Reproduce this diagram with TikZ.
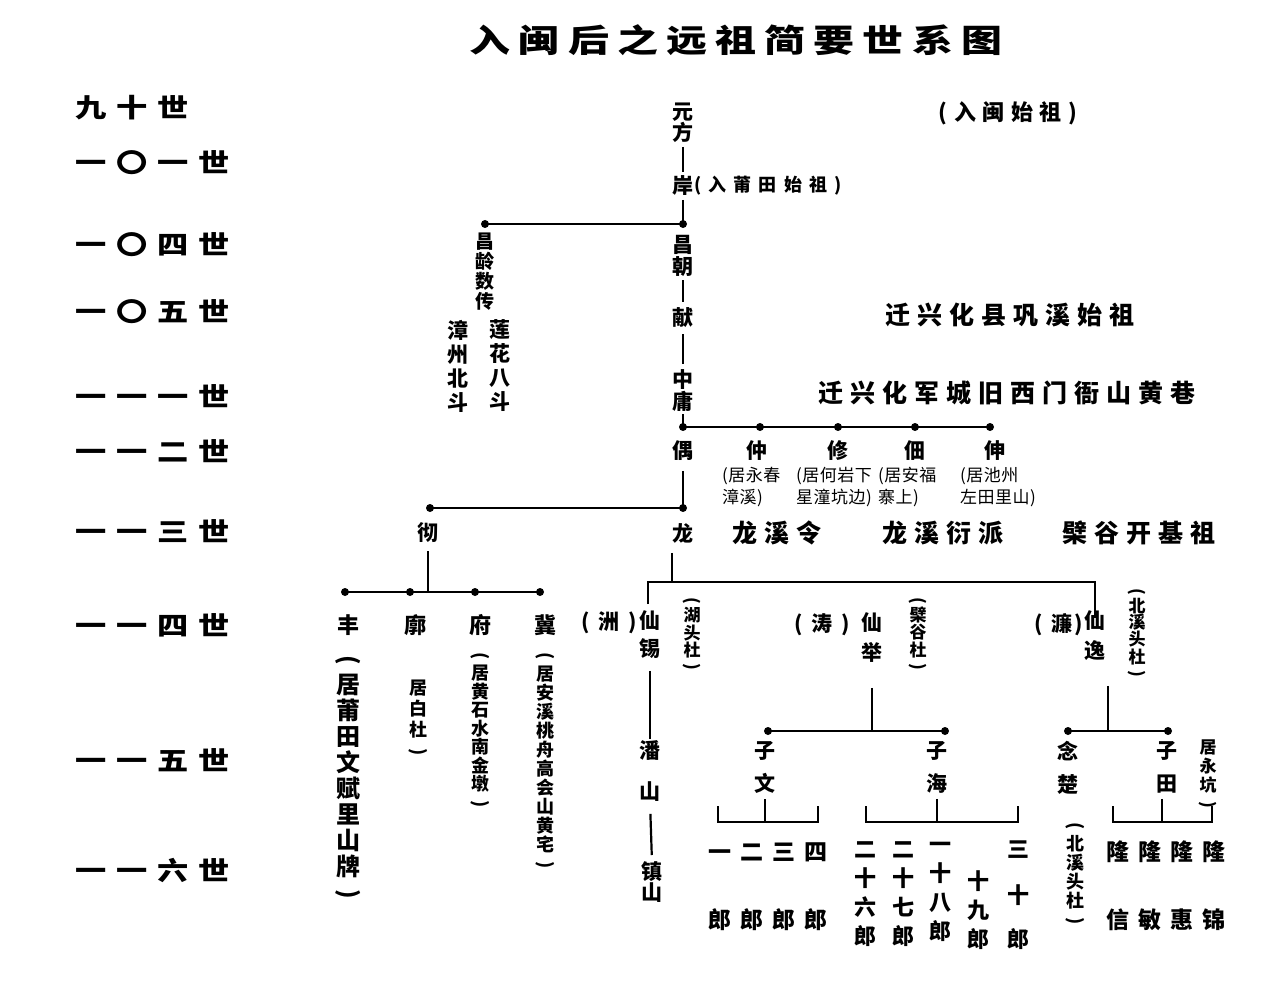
\documentclass[tikz,border=0pt]{standalone}
\usepackage{fontspec}
\usepackage{graphicx}
\newfontfamily\cjk{Noto Sans CJK SC}
\newcommand{\myfs}[2]{\fontsize{#1}{#2}\selectfont}
\newcommand{\vo}{\rotatebox[origin=c]{-90}{(}}
\newcommand{\vc}{\rotatebox[origin=c]{-90}{)}}
\begin{document}
\begin{tikzpicture}[x=1pt,y=-1pt,
 every node/.style={inner sep=0pt, outer sep=0pt},
 nm/.style={font=\cjk\bfseries\myfs{21}{21}},
 vt/.style={align=center, anchor=north, font=\cjk\bfseries\myfs{21}{#1}},
 vt/.default=22,
 vs/.style={align=center, anchor=north, font=\cjk\bfseries\myfs{17}{#1}},
 vs/.default=17,
 lbl/.style={font=\cjk\bfseries\myfs{25}{25}\addfontfeature{LetterSpace=28}},
 gen/.style={anchor=west, xscale=1.2, font=\cjk\bfseries\myfs{26}{26}\addfontfeature{LetterSpace=32}},
 small/.style={font=\cjk\myfs{17}{22}\addfontfeature{LetterSpace=3}, align=left, anchor=north west},
 row/.style={font=\cjk\bfseries\myfs{23}{23}\addfontfeature{LetterSpace=40}},
 ln/.style={line width=2.2pt},
 dot/.style={circle, fill=black, minimum size=8pt},
]
\useasboundingbox (0,0) rectangle (1280,995);

% title
\node[font=\cjk\bfseries\myfs{32}{32}\addfontfeature{LetterSpace=20}, xscale=1.28] (title) at (736,40) {入闽后之远祖简要世系图};

% generation labels
\node[gen] (g90)  at (75,108) {九十世};
\node[gen] (g101) at (75,163) {一〇一世};
\node[gen] (g104) at (75,245) {一〇四世};
\node[gen] (g105) at (75,312) {一〇五世};
\node[gen] (g111) at (75,396) {一一一世};
\node[gen] (g112) at (75,451) {一一二世};
\node[gen] (g113) at (75,531) {一一三世};
\node[gen] (g114) at (75,625) {一一四世};
\node[gen] (g115) at (75,760) {一一五世};
\node[gen] (g116) at (75,870) {一一六世};

% right-side labels
\node[lbl, font=\cjk\bfseries\myfs{22}{22}\addfontfeature{LetterSpace=30}] (rumin) at (1008,113) {(入闽始祖)};
\node[lbl] (gongxi) at (1010,315) {迁兴化县巩溪始祖};
\node[lbl] (leishan) at (1007,393) {迁兴化军城旧西门衙山黄巷};

% top trunk
\node[vt=20] (yf) at (683,103) {元\\方};
\node[nm] (an) at (683,186) {岸};
\node[anchor=west, font=\cjk\bfseries\myfs{18}{18}\addfontfeature{LetterSpace=40}] (annote) at (694,186) {(入莆田始祖)};
\coordinate (j1) at (683,224);
\coordinate (jl) at (485,224);
\draw[ln, shorten <=4pt, shorten >=4pt] (yf.south) -- (an.north);
\draw[ln, shorten <=4pt] (an.south) -- (j1);
\draw[ln] (j1) -- (jl);
\node[dot] at (j1) {};
\node[dot] at (jl) {};

\node[vt=20, font=\cjk\bfseries\myfs{19}{20}] (cl) at (485,233) {昌\\龄\\数\\传};
\node[vt=24] (zz) at (458,320) {漳\\州\\北\\斗};
\node[vt=24] (lh) at (500,320) {莲\\花\\八\\斗};

\node[vt=22] (cc) at (683,235) {昌\\朝};
\node[nm] (xn) at (683,318) {献};
\node[vt=20] (zy) at (683,370) {中\\庸};
\draw[ln, shorten <=4pt, shorten >=6pt] (cc.south) -- (xn.north);
\draw[ln, shorten <=6pt, shorten >=6pt] (xn.south) -- (zy.north);

\coordinate (j2) at (683,427);
\coordinate (d2) at (760,427);
\coordinate (d3) at (838,427);
\coordinate (d4) at (915,427);
\coordinate (d5) at (990,427);
\draw[ln, shorten <=3pt] (zy.south) -- (j2);
\draw[ln] (j2) -- (d5);
\foreach \p in {j2,d2,d3,d4,d5} \node[dot] at (\p) {};

\node[nm] (ou) at (683,451) {偶};
\node[nm] (zhong) at (757,451) {仲};
\node[nm] (xiu) at (838,451) {修};
\node[nm] (dian) at (915,451) {佃};
\node[nm] (shen) at (995,451) {伸};
\node[small] (n1) at (722,467) {(居永春\\漳溪)};
\node[small] (n2) at (796,467) {(居何岩下\\星潼坑边)};
\node[small] (n3) at (878,467) {(居安福\\寨上)};
\node[small] (n4) at (960,467) {(居池州\\左田里山)};

\coordinate (j3) at (683,508);
\coordinate (jc) at (430,508);
\draw[ln, shorten <=10pt] (ou.south) -- (j3);
\draw[ln] (j3) -- (jc);
\node[dot] at (j3) {};
\node[dot] at (jc) {};

\node[nm] (che) at (428,533) {彻};
\node[nm] (long) at (683,533) {龙};
\node[lbl] (lxl) at (777,533) {龙溪令};
\node[lbl] (lxy) at (943,533) {龙溪衍派};
\node[lbl] (bg) at (1139,533) {檗谷开基祖};

% che branch
\coordinate (jd) at (428,592);
\coordinate (e1) at (345,592);
\coordinate (e2) at (410,592);
\coordinate (e3) at (475,592);
\coordinate (e4) at (540,592);
\draw[ln, shorten <=8pt] (che.south) -- (jd);
\draw[ln] (e1) -- (e4);
\foreach \p in {e1,e2,e3,e4} \node[dot] at (\p) {};

\node[nm, font=\cjk\bfseries\myfs{22}{22}] (feng) at (348,625) {丰};
\node[nm, font=\cjk\bfseries\myfs{22}{22}] (kuo) at (415,625) {廓};
\node[nm, font=\cjk\bfseries\myfs{22}{22}] (fu) at (480,625) {府};
\node[nm, font=\cjk\bfseries\myfs{22}{22}] (ji) at (545,625) {冀};
\node[vt, font=\cjk\bfseries\myfs{24}{26}] (fengN) at (348,655) {\vo\\居\\莆\\田\\文\\赋\\里\\山\\牌\\\vc};
\node[vs=21, font=\cjk\bfseries\myfs{18}{21}] (kuoN) at (418,680) {居\\白\\杜\\\vc};
\node[vs, font=\cjk\bfseries\myfs{18}{18.5}] (fuN) at (480,652) {\vo\\居\\黄\\石\\水\\南\\金\\墩\\\vc};
\node[vs, font=\cjk\bfseries\myfs{18}{19}] (jiN) at (545,652) {\vo\\居\\安\\溪\\桃\\舟\\高\\会\\山\\黄\\宅\\\vc};

% long branch
\coordinate (j4) at (672,582);
\coordinate (b1) at (648,582);
\coordinate (b2) at (1095,582);
\draw[ln, shorten <=10pt] (long.south -| j4) -- (j4);

\node[vt=28] (xx) at (650,611) {仙\\锡};
\node[nm, anchor=east] (zhou) at (637,623) {(\hspace{9pt}洲\hspace{9pt})};
\node[vs=16] (hts) at (692,597) {\vo\\湖\\头\\杜\\\vc};
\node[vt=30] (xj) at (872,613) {仙\\举};
\node[nm, anchor=east] (tao) at (850,625) {(\hspace{9pt}涛\hspace{9pt})};
\node[vs=16] (bgs) at (918,597) {\vo\\檗\\谷\\杜\\\vc};
\node[vt=30] (xy) at (1095,611) {仙\\逸};
\node[nm, anchor=east] (lian) at (1083,625) {(\hspace{9pt}濂\hspace{2pt})};
\node[vs=16] (bxt) at (1137,588) {\vo\\北\\溪\\头\\杜\\\vc};

\draw[ln] (xx.north -| b1) ++(0,-7) -- (b1) -- (b2) -- ([yshift=-7pt]xy.north -| b2);

% xian xi line
\node[vt=41] (ps) at (650,741) {潘\\山};
\node[vt=21] (zs) at (652,862) {镇\\山};
\draw[ln, shorten <=12pt, shorten >=2pt] (xx.south) -- (ps.north);
\draw[ln, shorten <=12pt, shorten >=7pt] (ps.south) -- (zs.north);

% xian ju line
\coordinate (j5) at (872,731);
\coordinate (f1) at (768,731);
\coordinate (f2) at (945,731);
\draw[ln, shorten <=25pt] (xj.south) -- (j5);
\draw[ln] (f1) -- (f2);
\node[dot] at (f1) {};
\node[dot] at (f2) {};
\node[vt=33] (zw) at (765,741) {子\\文};
\node[vt=33] (zh) at (937,741) {子\\海};

\coordinate (k1) at (765,822);
\coordinate (k1a) at (718,822);
\coordinate (k1b) at (818,822);
\draw[ln, shorten <=6pt] (zw.south) -- (k1);
\draw[ln] ([yshift=16pt]k1a) -- (k1a) -- (k1b) -- ([yshift=16pt]k1b);
\node[row] (nums1) at (768,852) {一二三四};
\node[row] (lang1) at (768,920) {郎郎郎郎};

\coordinate (k2) at (937,822);
\coordinate (k2a) at (866,822);
\coordinate (k2b) at (1018,822);
\draw[ln, shorten <=6pt] (zh.south) -- (k2);
\draw[ln] ([yshift=16pt]k2a) -- (k2a) -- (k2b) -- ([yshift=16pt]k2b);
\node[vt=29, font=\cjk\bfseries\myfs{22}{29}] (c1) at (865,842) {二\\十\\六\\郎};
\node[vt=29, font=\cjk\bfseries\myfs{22}{29}] (c2) at (903,842) {二\\十\\七\\郎};
\node[vt=29, font=\cjk\bfseries\myfs{22}{29}] (c3) at (940,842) {一\\十\\八\\郎};
\node[vt=29, font=\cjk\bfseries\myfs{22}{29}] (c4) at (978,871) {十\\九\\郎};
\node[nm, font=\cjk\bfseries\myfs{22}{22}] (c5a) at (1018,850) {三};
\node[nm, font=\cjk\bfseries\myfs{22}{22}] (c5b) at (1018,895) {十};
\node[nm, font=\cjk\bfseries\myfs{22}{22}] (c5c) at (1018,939) {郎};

% xian yi line
\coordinate (j6) at (1108,731);
\coordinate (h1) at (1068,731);
\coordinate (h2) at (1168,731);
\draw[ln, shorten <=25pt] (xy.south -| j6) -- (j6);
\draw[ln] (h1) -- (h2);
\node[dot] at (h1) {};
\node[dot] at (h2) {};
\node[vt=33] (nc) at (1068,741) {念\\楚};
\node[vt=33] (zt) at (1167,741) {子\\田};
\node[vs=19] (yk) at (1208,740) {居\\永\\坑\\\vc};
\node[vs=19, font=\cjk\bfseries\myfs{18}{19}] (bxt2) at (1075,822) {\vo\\北\\溪\\头\\杜\\\vc};

\coordinate (k3) at (1162,822);
\coordinate (k3a) at (1113,822);
\coordinate (k3b) at (1212,822);
\draw[ln, shorten <=6pt] (zt.south -| k3) -- (k3);
\draw[ln] ([yshift=16pt]k3a) -- (k3a) -- (k3b) -- ([yshift=16pt]k3b);
\node[row] (long4) at (1166,852) {隆隆隆隆};
\node[row] (xm) at (1166,920) {信敏惠锦};
\end{tikzpicture}
\end{document}
